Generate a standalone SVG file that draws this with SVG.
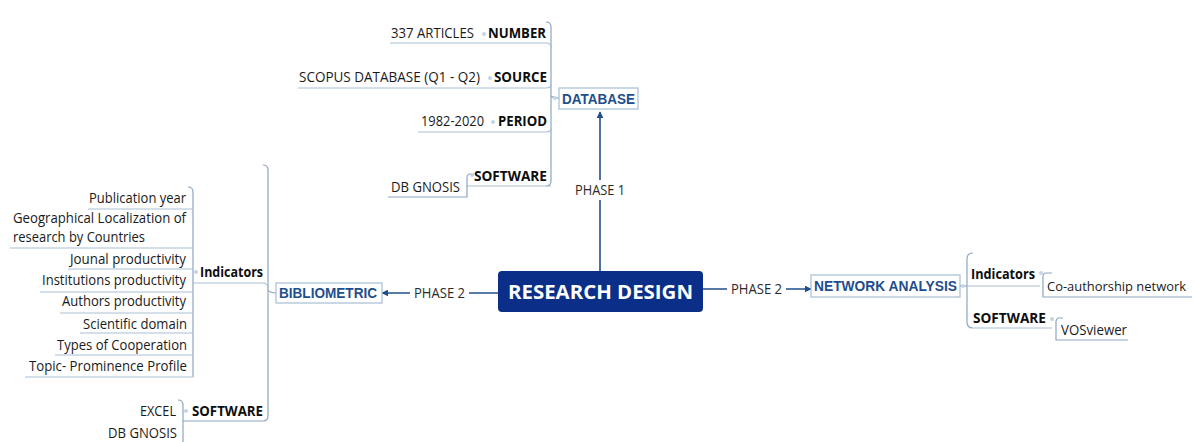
<svg xmlns="http://www.w3.org/2000/svg" width="1195" height="442" viewBox="0 0 1195 442">
<defs>
<marker id="ah" viewBox="0 0 10 10" refX="9" refY="5" markerWidth="7" markerHeight="7" orient="auto" markerUnits="userSpaceOnUse"><path d="M0,0 L10,5 L0,10 z" fill="#1f4e8c"/></marker>
<style>
.t{font-family:"Open Sans","Noto Sans",sans-serif;font-size:14px;fill:#1a1a1a}
.b{font-family:"Open Sans","Noto Sans",sans-serif;font-size:14px;font-weight:bold;fill:#0d0d0d}
.bl{font-family:"Liberation Sans",Arial,sans-serif;font-size:14px;font-weight:bold;fill:#1f4e8c}
.box{fill:#fff;stroke:#a7bdd4;stroke-width:1.2}
.br{fill:none;stroke:#8ea6c0;stroke-width:1.2}
.ul{fill:none;stroke:#a9bfd6;stroke-width:1.2}
.dot{fill:#c5d5e6}
.ar{fill:none;stroke:#1f4e8c;stroke-width:1.6}
.lab{font-family:"Open Sans","Noto Sans",sans-serif;font-size:14px;fill:#2a2a2a}
</style>
</defs>
<rect width="1195" height="442" fill="#fff"/>

<g id="connectors">
<line class="ar" x1="600" y1="271" x2="600" y2="112" marker-end="url(#ah)"/>
<line class="ar" x1="498" y1="293" x2="382" y2="293" marker-end="url(#ah)"/>
<line class="ar" x1="703" y1="289" x2="811" y2="289" marker-end="url(#ah)"/>
<rect x="570" y="180" width="60" height="20" fill="#fff"/>
<text class="lab" x="575" y="195" textLength="50" lengthAdjust="spacingAndGlyphs">PHASE 1</text>
<rect x="410" y="284" width="59" height="18" fill="#fff"/>
<text class="lab" x="414" y="298" textLength="51" lengthAdjust="spacingAndGlyphs">PHASE 2</text>
<rect x="727" y="280" width="59" height="18" fill="#fff"/>
<text class="lab" x="731" y="294" textLength="51" lengthAdjust="spacingAndGlyphs">PHASE 2</text>

<path class="br" d="M546,22 Q551,22 551,27 L551,181 Q551,186 546,186"/>
<path class="br" d="M551,96 Q553,98 559,98"/>
<path class="ul" d="M390,43 L546,43 Q551,43 551,48"/>
<path class="ul" d="M298,88 L546,88 Q551,88 551,84"/>
<path class="ul" d="M418,132 L546,132 Q551,132 551,128"/>
<path class="ul" d="M467,186 L551,186"/>
<path class="br" d="M474,174 L470,174 Q467,174 467,178 L467,197 L388,197"/>
<path class="br" d="M263,165 Q268,165 268,170 L268,416 Q268,421 263,421 L183,421"/>
<path class="br" d="M268,290 Q270,293 276,293"/>
<path class="ul" d="M193,283 L262,283 Q268,283 268,288"/>
<path class="br" d="M188,187 Q193,187 193,192 L193,377"/>
<path class="ul" d="M88,209 L193,209"/>
<path class="ul" d="M10,248 L193,248"/>
<path class="ul" d="M68,269 L193,269"/>
<path class="ul" d="M40,292 L193,292"/>
<path class="ul" d="M60,313 L193,313"/>
<path class="ul" d="M80,333 L193,333"/>
<path class="ul" d="M55,355 L193,355"/>
<path class="ul" d="M25,377 L193,377"/>
<path class="br" d="M178,400 Q183,400 183,405 L183,442"/>
<path class="br" d="M973,253 Q967,253 967,259 L967,322 Q967,328 973,328"/>
<path class="br" d="M960,286 L967,286"/>
<path class="ul" d="M967,286 L1040,286"/>
<path class="ul" d="M973,328 L1052,328"/>
<path class="br" d="M1052,273 L1046,273 Q1043,273 1043,277 L1043,297 L1192,297"/>
<path class="br" d="M1063,318 L1059,318 Q1056,318 1056,322 L1056,340 L1128,340"/>
<circle class="dot" cx="484" cy="34" r="2"/>
<circle class="dot" cx="490" cy="78" r="2"/>
<circle class="dot" cx="493" cy="122" r="2"/>
<circle class="dot" cx="472" cy="175" r="2"/>
<circle class="dot" cx="196" cy="272" r="2"/>
<circle class="dot" cx="186" cy="411" r="2"/>
<circle class="dot" cx="963" cy="286" r="2"/>
<circle class="dot" cx="1041" cy="273" r="2"/>
<circle class="dot" cx="1052" cy="319" r="2"/>
<circle class="dot" cx="555" cy="98" r="2"/>
</g>

<g id="research-design">
<rect x="498" y="271" width="205" height="41" rx="4" fill="#0b2f88"/>
<text x="508" y="299" textLength="185" lengthAdjust="spacingAndGlyphs" style="font-family:'Open Sans','Noto Sans',sans-serif;font-size:20px;font-weight:bold;fill:#fff">RESEARCH DESIGN</text>
</g>

<g id="database">
<rect class="box" x="559" y="88" width="79" height="21"/>
<text class="bl" x="562" y="104" textLength="73" lengthAdjust="spacingAndGlyphs">DATABASE</text>
</g>
<g id="number"><text class="b" x="488" y="38" textLength="58" lengthAdjust="spacingAndGlyphs">NUMBER</text></g>
<g id="articles"><text class="t" x="391" y="38" textLength="83" lengthAdjust="spacingAndGlyphs">337 ARTICLES</text></g>
<g id="source"><text class="b" x="494" y="82" textLength="53" lengthAdjust="spacingAndGlyphs">SOURCE</text></g>
<g id="scopus"><text class="t" x="299" y="82" textLength="181" lengthAdjust="spacingAndGlyphs">SCOPUS DATABASE (Q1 - Q2)</text></g>
<g id="period"><text class="b" x="498" y="126" textLength="49" lengthAdjust="spacingAndGlyphs">PERIOD</text></g>
<g id="years"><text class="t" x="421" y="126" textLength="63" lengthAdjust="spacingAndGlyphs">1982-2020</text></g>
<g id="db-software"><text class="b" x="474" y="181" textLength="73" lengthAdjust="spacingAndGlyphs">SOFTWARE</text></g>
<g id="db-gnosis-1"><text class="t" x="391" y="192" textLength="69" lengthAdjust="spacingAndGlyphs">DB GNOSIS</text></g>

<g id="bibliometric">
<rect class="box" x="276" y="283" width="106" height="20"/>
<text class="bl" x="279" y="298" textLength="98" lengthAdjust="spacingAndGlyphs">BIBLIOMETRIC</text>
</g>
<g id="indicators-left"><text class="b" x="200" y="277" textLength="63" lengthAdjust="spacingAndGlyphs">Indicators</text></g>
<g id="pub-year"><text class="t" x="89" y="203" textLength="97" lengthAdjust="spacingAndGlyphs">Publication year</text></g>
<g id="geo">
<text class="t" x="13" y="223" textLength="173" lengthAdjust="spacingAndGlyphs">Geographical Localization of</text>
<text class="t" x="13" y="242" textLength="132" lengthAdjust="spacingAndGlyphs">research by Countries</text>
</g>
<g id="journal"><text class="t" x="70" y="264" textLength="116" lengthAdjust="spacingAndGlyphs">Jounal productivity</text></g>
<g id="institutions"><text class="t" x="42" y="285" textLength="144" lengthAdjust="spacingAndGlyphs">Institutions productivity</text></g>
<g id="authors"><text class="t" x="62" y="306" textLength="124" lengthAdjust="spacingAndGlyphs">Authors productivity</text></g>
<g id="scientific"><text class="t" x="83" y="329" textLength="104" lengthAdjust="spacingAndGlyphs">Scientific domain</text></g>
<g id="cooperation"><text class="t" x="57" y="350" textLength="130" lengthAdjust="spacingAndGlyphs">Types of Cooperation</text></g>
<g id="topic"><text class="t" x="29" y="371" textLength="158" lengthAdjust="spacingAndGlyphs">Topic- Prominence Profile</text></g>
<g id="software-left"><text class="b" x="192" y="416" textLength="71" lengthAdjust="spacingAndGlyphs">SOFTWARE</text></g>
<g id="excel"><text class="t" x="140" y="416" textLength="36" lengthAdjust="spacingAndGlyphs">EXCEL</text></g>
<g id="db-gnosis-2"><text class="t" x="108" y="438" textLength="69" lengthAdjust="spacingAndGlyphs">DB GNOSIS</text></g>

<g id="network-analysis">
<rect class="box" x="811" y="275" width="149" height="22"/>
<text class="bl" x="814" y="291" textLength="143" lengthAdjust="spacingAndGlyphs">NETWORK ANALYSIS</text>
</g>
<g id="indicators-right"><text class="b" x="971" y="279" textLength="64" lengthAdjust="spacingAndGlyphs">Indicators</text></g>
<g id="coauthorship"><text class="t" x="1047" y="291" style="font-size:13px" textLength="139" lengthAdjust="spacingAndGlyphs">Co-authorship network</text></g>
<g id="software-right"><text class="b" x="973" y="323" textLength="73" lengthAdjust="spacingAndGlyphs">SOFTWARE</text></g>
<g id="vosviewer"><text class="t" x="1061" y="335" textLength="66" lengthAdjust="spacingAndGlyphs">VOSviewer</text></g>
</svg>
